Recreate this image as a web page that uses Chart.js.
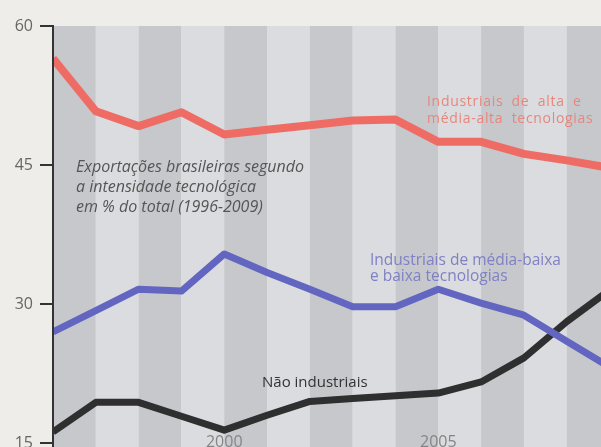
<!DOCTYPE html>
<html>
<head>
<meta charset="utf-8">
<script src="https://cdn.jsdelivr.net/npm/chart.js@4.4.1/dist/chart.umd.min.js"></script>
<style>
  html, body { margin: 0; padding: 0; background: #eeede9; }
  #wrap { width: 601px; height: 447px; }
</style>
</head>
<body>
<div id="wrap"><canvas id="c"></canvas></div>
<script>
// Anos e séries (% do total das exportações)
const years = [1996, 1997, 1998, 1999, 2000, 2001, 2002, 2003, 2004, 2005, 2006, 2007, 2008, 2009];
const altaTec = [56.5, 50.8, 49.2, 50.7, 48.3, 48.8, 49.3, 49.8, 49.9, 47.5, 47.5, 46.2, 45.5, 44.7];
const baixaTec = [27.0, 29.3, 31.6, 31.4, 35.4, 33.4, 31.6, 29.7, 29.7, 31.6, 30.1, 28.8, 26.0, 23.2];
const naoIndustriais = [16.2, 19.4, 19.4, 17.9, 16.4, 18.0, 19.5, 19.8, 20.1, 20.4, 21.6, 24.2, 28.1, 31.5];
const yTicks = [15, 30, 45, 60];
const yearLabels = [2000, 2005];

const toPoints = (vals) => vals.map((v, i) => ({ x: years[i], y: v }));

// Faixas cinzas alternadas por ano
const stripes = {
  id: "stripes",
  beforeDatasetsDraw(chart) {
    const { ctx, chartArea, scales } = chart;
    const x = scales.x;
    ctx.save();
    for (let i = 0; i < years.length - 1; i++) {
      const x0 = x.getPixelForValue(years[i]);
      const x1 = x.getPixelForValue(years[i + 1]);
      ctx.fillStyle = i % 2 === 0 ? "#c6c8cc" : "#dbdcdf";
      ctx.fillRect(x0, chartArea.top, x1 - x0, chartArea.bottom - chartArea.top);
    }
    ctx.restore();
  },
};

// Eixo vertical com marcas, textos e anos
const annotations = {
  id: "annotations",
  afterDraw(chart) {
    const { ctx, chartArea, scales } = chart;
    const y = scales.y;
    ctx.save();
    ctx.fillStyle = "#333";
    ctx.fillRect(chartArea.left - 1, y.getPixelForValue(60) - 1, 2, chartArea.bottom);
    yTicks.forEach((v) => {
      const py = Math.round(y.getPixelForValue(v));
      ctx.fillRect(chartArea.left - 13, py - 1, 14, 2);
    });

    ctx.textBaseline = "middle";
    ctx.fillStyle = "#555";
    ctx.font = "italic 16px 'Open Sans'";
    ctx.fillText("Exportações brasileiras segundo", 76, 167);
    ctx.fillText("a intensidade tecnológica", 76, 187);
    ctx.fillText("em % do total (1996-2009)", 76, 207);

    ctx.fillStyle = "#e8867d";
    ctx.font = "14px 'Open Sans'";
    ctx.letterSpacing = "0.7px";
    ctx.wordSpacing = "4px";
    ctx.fillText("Industriais de alta e", 427, 102);
    ctx.fillText("média-alta tecnologias", 427, 119);
    ctx.letterSpacing = "0px";
    ctx.wordSpacing = "0px";

    ctx.fillStyle = "#7f81c4";
    ctx.font = "15.5px 'Open Sans'";
    ctx.fillText("Industriais de média-baixa", 370, 261);
    ctx.fillText("e baixa tecnologias", 370, 277);

    ctx.fillStyle = "#333";
    ctx.font = "15px 'Open Sans'";
    ctx.fillText("Não industriais", 262, 383);

    ctx.fillStyle = "#858585";
    ctx.font = "16px 'Open Sans'";
    ctx.textAlign = "center";
    yearLabels.forEach((yr) => {
      ctx.fillText(String(yr), scales.x.getPixelForValue(yr), 442);
    });
    ctx.restore();
  },
};

new Chart(document.getElementById("c"), {
  type: "line",
  data: {
    datasets: [
      {
        label: "Industriais de alta e média-alta tecnologias",
        data: toPoints(altaTec),
        borderColor: "#ee6c64",
        borderWidth: 8,
      },
      {
        label: "Industriais de média-baixa e baixa tecnologias",
        data: toPoints(baixaTec),
        borderColor: "#6366c0",
        borderWidth: 7,
      },
      {
        label: "Não industriais",
        data: toPoints(naoIndustriais),
        borderColor: "#2f2f2f",
        borderWidth: 7,
      },
    ],
  },
  options: {
    responsive: true,
    maintainAspectRatio: false,
    animation: false,
    layout: { padding: { top: 26, right: 0, bottom: 0, left: 0 } },
    elements: {
      point: { radius: 0 },
      line: { tension: 0, borderJoinStyle: "round" },
    },
    plugins: {
      legend: { display: false },
      tooltip: { enabled: false },
    },
    scales: {
      x: {
        type: "linear",
        display: false,
        min: 1996,
        max: 2008.8,
      },
      y: {
        min: 14.58,
        max: 60,
        afterBuildTicks: (scale) => {
          scale.ticks = yTicks.map((v) => ({ value: v }));
        },
        afterFit: (scale) => {
          scale.width = 53;
          scale.paddingTop = 0;
          scale.paddingBottom = 0;
        },
        grid: { drawOnChartArea: false, drawTicks: false },
        border: { display: false },
        ticks: {
          padding: 20,
          color: "#666",
          font: { family: "'Open Sans'", size: 16 },
        },
      },
    },
  },
  plugins: [stripes, annotations],
});
</script>
</body>
</html>
